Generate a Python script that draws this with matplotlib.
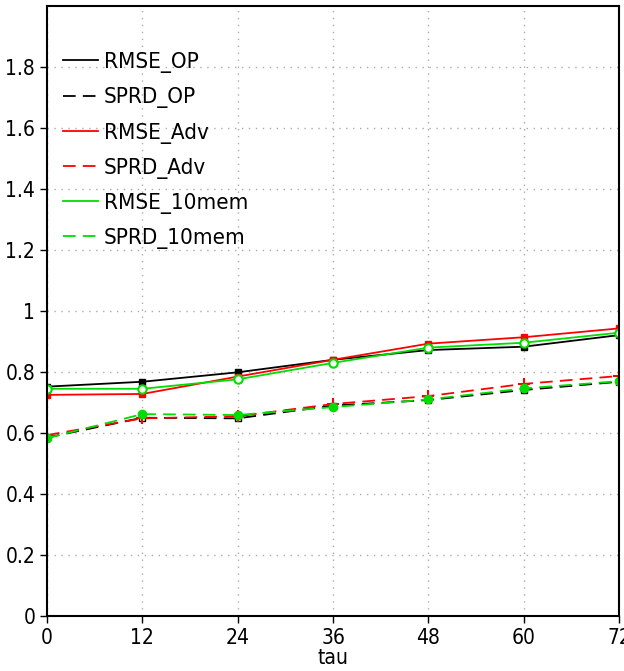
import matplotlib
matplotlib.use('Agg')
import matplotlib.pyplot as plt

plt.rcParams['font.family'] = ['DejaVu Sans']
plt.rcParams['font.stretch'] = 'condensed'

# Forecast lead time (hours)
tau = [0, 12, 24, 36, 48, 60, 72]

# RMSE and spread for each experiment
rmse_op = [0.752, 0.768, 0.799, 0.840, 0.872, 0.883, 0.921]
sprd_op = [0.585, 0.650, 0.648, 0.690, 0.708, 0.741, 0.768]
rmse_adv = [0.725, 0.728, 0.785, 0.840, 0.893, 0.914, 0.943]
sprd_adv = [0.593, 0.648, 0.655, 0.695, 0.721, 0.761, 0.787]
rmse_10mem = [0.745, 0.745, 0.776, 0.830, 0.880, 0.896, 0.929]
sprd_10mem = [0.583, 0.662, 0.659, 0.685, 0.710, 0.746, 0.770]

xticks = [0, 12, 24, 36, 48, 60, 72]
yticks = [0, 0.2, 0.4, 0.6, 0.8, 1, 1.2, 1.4, 1.6, 1.8]
ytick_labels = ['0', '0.2', '0.4', '0.6', '0.8', '1', '1.2', '1.4', '1.6', '1.8']

fig = plt.figure(figsize=(6.24, 6.71), dpi=100)
ax = fig.add_axes([0.0753, 0.082, 0.917, 0.909])

dash = (0, (7, 4))
lw = 1.3
ax.plot(tau, rmse_op, color='black', lw=lw, marker='s', ms=5, label='RMSE_OP')
ax.plot(tau, sprd_op, color='black', lw=lw, ls=dash, marker='s', ms=5,
        mfc='white', label='SPRD_OP')
ax.plot(tau, rmse_adv, color='#ff0000', lw=lw, marker='s', ms=5, label='RMSE_Adv')
ax.plot(tau, sprd_adv, color='#ff0000', lw=lw, ls=dash, marker='+', ms=8,
        mew=1.5, label='SPRD_Adv')
ax.plot(tau, rmse_10mem, color='#00dd00', lw=lw, marker='o', ms=6,
        mfc='white', mew=1.5, label='RMSE_10mem')
ax.plot(tau, sprd_10mem, color='#00dd00', lw=lw, ls=dash, marker='o', ms=6,
        label='SPRD_10mem')

# legend with plain lines, no markers
leg = ax.legend(frameon=False, loc='upper left', bbox_to_anchor=(0.0, 0.95),
                fontsize=16, handlelength=1.6, handletextpad=0.25,
                labelspacing=0.64, borderaxespad=0.3)
for h in leg.get_lines():
    h.set_marker('')

ax.set_xlim(0, 72)
ax.set_ylim(0, 2.0)
ax.set_xticks(xticks)
ax.set_yticks(yticks)
ax.set_yticklabels(ytick_labels)
ax.tick_params(direction='out', length=5, width=1, labelsize=15)
ax.grid(True, color='#aaaaaa', ls=(0, (1, 4)), lw=1)
for s in ax.spines.values():
    s.set_linewidth(1.5)
ax.set_xlabel('tau', fontsize=15, labelpad=0)

fig.savefig('out.png', dpi=100)
